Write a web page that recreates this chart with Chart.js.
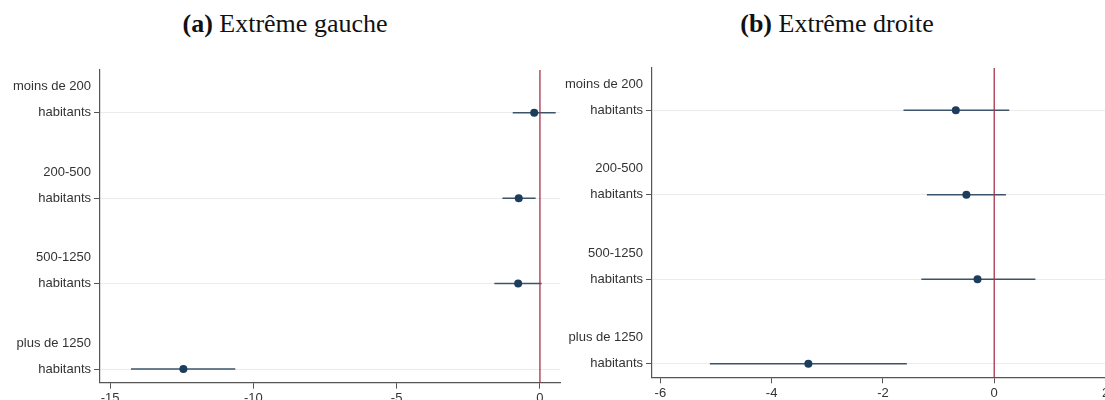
<!DOCTYPE html>
<html>
<head>
<meta charset="utf-8">
<script src="https://cdn.jsdelivr.net/npm/chart.js@4/dist/chart.umd.min.js"></script>
<style>
  html, body { margin: 0; width: 1105px; height: 400px; overflow: hidden; background: #fff; }
  .title { position: absolute; top: 9px; transform: translateX(-50%); white-space: nowrap;
           font-family: "Liberation Serif", "Times New Roman", serif; font-size: 26px; color: #111; }
  .panel { position: absolute; top: 0; height: 420px; }
</style>
</head>
<body>
<div class="title" style="left:285px"><b>(a)</b> Extrême gauche</div>
<div class="title" style="left:837px"><b>(b)</b> Extrême droite</div>
<div class="panel" style="left:0; width:575px"><canvas id="chartA"></canvas></div>
<div class="panel" style="left:552px; width:570px"><canvas id="chartB"></canvas></div>

<script>
// categories (two-line labels, tick sits on the second line)
const categories = [
  ["moins de 200", "habitants"],
  ["200-500", "habitants"],
  ["500-1250", "habitants"],
  ["plus de 1250", "habitants"]
];

// (a) extrême gauche
const gaucheCoef = [-0.2, -0.74, -0.76, -12.44];
const gaucheLow = [-0.95, -1.31, -1.59, -14.27];
const gaucheHigh = [0.55, -0.15, 0.06, -10.63];
const gaucheTicks = [-15, -10, -5, 0];

// (b) extrême droite
const droiteCoef = [-0.69, -0.5, -0.3, -3.34];
const droiteLow = [-1.63, -1.21, -1.31, -5.11];
const droiteHigh = [0.27, 0.21, 0.74, -1.57];
const droiteTicks = [-6, -4, -2, 0, 2];

const Y_MIN = -0.5;
const Y_MAX = 3.16;
const DOT = "#1c3d5c";
const CI = "#3b536b";
const RED = "#a8324a";
const AXIS = "#555";

function buildChart(id, coef, low, high, xTicks, xMin, xMax, pad) {
  const ctx = document.getElementById(id).getContext("2d");

  const datasets = [];
  // reference line at 0
  datasets.push({
    data: [{ x: 0, y: Y_MIN }, { x: 0, y: Y_MAX }],
    showLine: true, borderColor: RED, borderWidth: 1.3, pointRadius: 0, order: 0
  });
  // confidence intervals
  categories.forEach((c, i) => {
    datasets.push({
      data: [{ x: low[i], y: i }, { x: high[i], y: i }],
      showLine: true, borderColor: CI, borderWidth: 1.5, pointRadius: 0, order: 2
    });
  });
  // point estimates
  datasets.push({
    data: coef.map((v, i) => ({ x: v, y: i })),
    pointRadius: 4, backgroundColor: DOT, borderWidth: 0, order: 1
  });

  return new Chart(ctx, {
    type: "scatter",
    data: { datasets },
    options: {
      responsive: true,
      maintainAspectRatio: false,
      animation: false,
      layout: { padding: pad },
      plugins: { legend: { display: false }, tooltip: { enabled: false } },
      scales: {
        x: {
          type: "linear",
          min: xMin,
          max: xMax,
          afterBuildTicks: (s) => { s.ticks = xTicks.map((v) => ({ value: v })); },
          afterFit: (s) => { s.height = 30; s.paddingLeft = 0; s.paddingRight = 0; },
          grid: { drawOnChartArea: false, tickLength: 6, tickColor: AXIS, tickWidth: 1 },
          border: { display: true, color: AXIS, width: 1.2 },
          ticks: {
            padding: 2,
            color: "#333",
            font: { family: "Liberation Sans, Arial, sans-serif", size: 13 },
            callback: (v) => String(v)
          }
        },
        y: {
          type: "linear",
          reverse: true,
          min: Y_MIN,
          max: Y_MAX,
          afterBuildTicks: (s) => { s.ticks = categories.map((c, i) => ({ value: i })); },
          afterFit: (s) => { s.width = 100; s.paddingTop = 0; s.paddingBottom = 0; },
          grid: { color: "#ececec", lineWidth: 1, tickLength: 6, tickColor: AXIS },
          border: { display: true, color: AXIS, width: 1.2 },
          ticks: {
            padding: 3,
            color: "#333",
            font: { family: "Liberation Sans, Arial, sans-serif", size: 13, lineHeight: 2 },
            callback: (v) => [categories[v][0], categories[v][1], ""]
          }
        }
      }
    }
  });
}

buildChart("chartA", gaucheCoef, gaucheLow, gaucheHigh, gaucheTicks, -15.35, 0.7,
  { top: 70, right: 15, bottom: 7.3, left: 0 });
buildChart("chartB", droiteCoef, droiteLow, droiteHigh, droiteTicks, -6.15, 2,
  { top: 68, right: 16.5, bottom: 12.7, left: 0 });
</script>
</body>
</html>
